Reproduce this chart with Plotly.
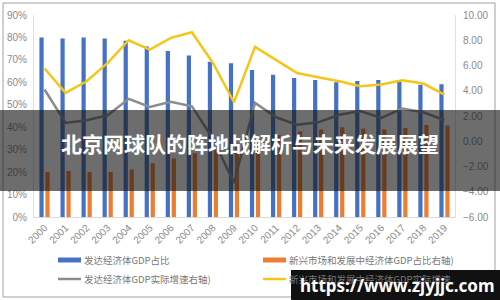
import plotly.graph_objects as go

years = [str(y) for y in range(2000, 2020)]
dev_share = [80, 79.5, 80, 79.5, 78.5, 76, 74, 72, 69.2, 68.5, 65.5, 63.4, 61.9, 61, 60, 60.6, 61, 60.3, 58.9, 59.1]
emg_share = [20, 20.5, 20, 20, 21.2, 23.9, 26.1, 28.4, 30.2, 31.3, 34.5, 36.5, 38.1, 39, 40, 39.4, 39, 39.7, 41, 40.8]
dev_growth = [4.1, 1.45, 1.66, 2.06, 3.36, 2.72, 3.12, 2.77, 0.2, -3.3, 3.04, 1.9, 1.3, 1.5, 2.1, 2.4, 1.85, 2.6, 2.3, 1.66]
emg_growth = [5.76, 3.83, 4.75, 6.2, 8.0, 7.26, 8.19, 8.63, 6.2, 3.09, 7.48, 6.47, 5.4, 5.07, 4.75, 4.36, 4.49, 4.83, 4.57, 3.7]

names = ["发达经济体GDP占比", "新兴市场和发展中经济体GDP占比右轴)",
         "发达经济体GDP实际增速右轴)", "新兴市场和发展中经济体GDP实际增速"]
colors = ["#4472C4", "#ED7D31", "#8C8C8C", "#F5C518"]
title_text = "北京网球队的阵地战解析与未来发展展望"
url_text = "https://www.zjyjjc.com"

W, H = 500, 300
L, R, T, B = 34, 45, 15, 83
pw, ph = W - L - R, H - T - B

def px(X):
    return (X - L) / pw

def py(Y):
    return (H - B - Y) / ph

fig = go.Figure()
fig.add_trace(go.Bar(x=years, y=[v / 100 for v in dev_share], name=names[0],
                     marker=dict(color=colors[0], line=dict(width=0))))
fig.add_trace(go.Bar(x=years, y=[v / 100 for v in emg_share], name=names[1],
                     marker=dict(color=colors[1], line=dict(width=0))))
fig.add_trace(go.Scatter(x=years, y=dev_growth, name=names[2], yaxis="y2", mode="lines",
                         line=dict(color=colors[2], width=2.5)))
fig.add_trace(go.Scatter(x=years, y=emg_growth, name=names[3], yaxis="y2", mode="lines",
                         line=dict(color=colors[3], width=2.5)))

tickfont = dict(family="Liberation Sans, Arial", size=10, color="#8a8a8a")

shapes = [
    dict(type="rect", xref="paper", yref="paper", x0=px(3), x1=px(495), y0=py(297), y1=py(3),
         line=dict(color="#a0a0a0", width=1), fillcolor="rgba(0,0,0,0)", layer="below"),
]
annotations = []

# manual legend (two columns, two rows)
leg_pos = [(58, 260), (263, 260), (58, 279), (263, 279)]
for i, (lx, ly) in enumerate(leg_pos):
    if i < 2:
        shapes.append(dict(type="rect", xref="paper", yref="paper", x0=px(lx), x1=px(lx + 23),
                           y0=py(ly + 2.5), y1=py(ly - 2.5), line=dict(width=0),
                           fillcolor=colors[i], layer="above"))
    else:
        shapes.append(dict(type="line", xref="paper", yref="paper", x0=px(lx), x1=px(lx + 23),
                           y0=py(ly), y1=py(ly), line=dict(color=colors[i], width=2.5),
                           layer="above"))
    annotations.append(dict(text=names[i], xref="paper", yref="paper", x=px(lx + 24), y=py(ly),
                            showarrow=False, xanchor="left", yanchor="middle",
                            font=dict(family="Noto Sans CJK SC", size=9.5, color="#777")))

# overlay banner and watermark
shapes.append(dict(type="rect", xref="paper", yref="paper", x0=px(0), x1=px(500), y0=py(191), y1=py(110),
                   line=dict(width=0), fillcolor="rgba(20,20,20,0.62)", layer="above"))
shapes.append(dict(type="rect", xref="paper", yref="paper", x0=px(291), x1=px(500), y0=py(300), y1=py(270),
                   line=dict(width=0), fillcolor="#111", layer="above"))
annotations.append(dict(text=title_text, xref="paper", yref="paper", x=px(250), y=py(143),
                        showarrow=False, xanchor="center", yanchor="middle",
                        font=dict(family="Noto Sans CJK SC", size=21, color="white", weight="bold")))
annotations.append(dict(text=url_text, xref="paper", yref="paper", x=px(397), y=py(285),
                        showarrow=False, xanchor="center", yanchor="middle",
                        font=dict(family="Noto Sans", size=17, color="white", weight="bold")))

fig.update_layout(
    width=W, height=H,
    margin=dict(l=L, r=R, t=T, b=B, autoexpand=False),
    paper_bgcolor="white", plot_bgcolor="white",
    barmode="group", bargap=0.43, bargroupgap=0.3,
    showlegend=False,
    xaxis=dict(type="category", tickangle=-45, tickfont=tickfont, showgrid=False,
               showline=True, linecolor="#d9d9d9", ticks="", zeroline=False),
    yaxis=dict(range=[0, 0.9], dtick=0.1, tickformat=".0%", tickfont=tickfont,
               showgrid=False, showline=True, linecolor="#e0e0e0", zeroline=False, ticks="",
               ticklabelstandoff=4),
    yaxis2=dict(range=[-6, 10], dtick=2, tickformat=".2f", overlaying="y", side="right",
                tickfont=tickfont, showgrid=False, showline=True, linecolor="#e0e0e0",
                zeroline=False, ticks="", ticklabelstandoff=5),
    shapes=shapes,
    annotations=annotations,
)

fig.write_html("out.html")
